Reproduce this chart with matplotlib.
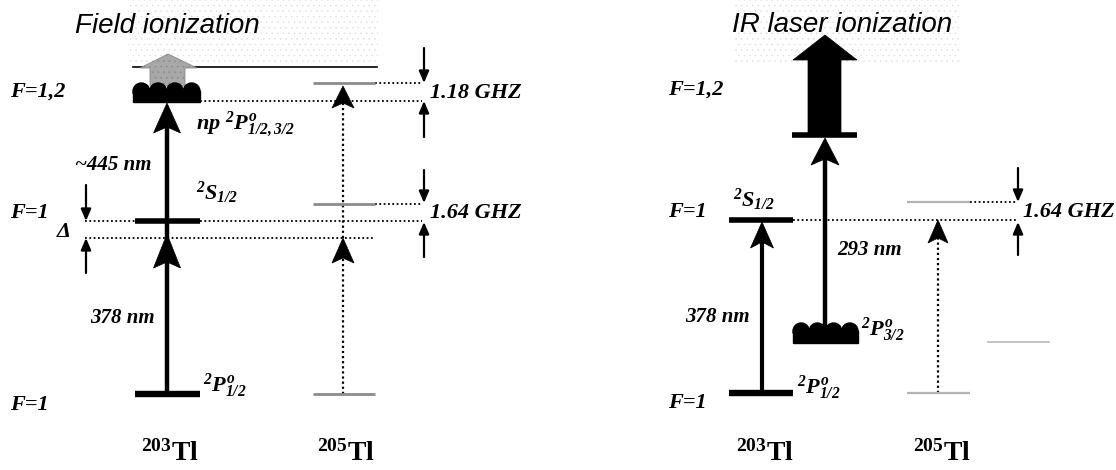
import matplotlib
matplotlib.use('Agg')
import matplotlib.pyplot as plt
from matplotlib.patches import Polygon, Rectangle, Circle

plt.rcParams['mathtext.fontset'] = 'custom'
plt.rcParams['mathtext.rm'] = 'Liberation Serif:bold:italic'
plt.rcParams['mathtext.it'] = 'Liberation Serif:bold:italic'
plt.rcParams['mathtext.bf'] = 'Liberation Serif:bold'
plt.rcParams['hatch.linewidth'] = 0.4

# ---------------- data (diagram coordinates in pixels, y downward) ----------
titles = ['Field ionization', 'IR laser ionization']
title_x = [75, 732]
title_y = [26, 25]

# Left panel: 203Tl levels
L_x203 = [135, 200]               # level bar extent
L_y_P12 = 394                      # 2P1/2 ground
L_y_S12 = 221                      # 2S1/2
L_y_virtual = 238                  # detuned (Delta) level
L_y_np = 101                       # np Rydberg level (bottom of blob)
L_y_limit = 67                     # ionization limit
# Left panel: 205Tl levels
L_x205 = [313, 375]
L_y205 = [394, 204, 83]
L_arrow205_x = 343

# Right panel: 203Tl levels
R_x203 = [729, 793]
R_y_P12 = 393
R_y_S12 = 220
R_y_P32 = 343
R_y_np = 135
R_x_P32 = [793, 858]
# Right panel: 205Tl levels
R_x205 = [907, 970]
R_y205 = [393, 202]
R_x205_P32 = [987, 1050]
R_y205_P32 = 342
R_arrow205_x = 938

wavelengths_left = ['~445 nm', '378 nm']
wavelengths_right = ['293 nm', '378 nm']
splittings = ['1.18 GHZ', '1.64 GHZ']
isotopes = [r'$\mathbf{^{203}Tl}$', r'$\mathbf{^{205}Tl}$']

# ---------------------------------------------------------------------------
fig = plt.figure(figsize=(11.16, 4.70), dpi=100)
ax = fig.add_axes([0, 0, 1, 1])
ax.set_xlim(0, 1116)
ax.set_ylim(470, 0)
ax.axis('off')

SERIF = dict(family='Liberation Serif', weight='bold', style='italic')


def head(x, tip, base, w, notch=6, color='k', z=5):
    pts = [(x, tip), (x - w / 2, base), (x, base - notch), (x + w / 2, base)]
    ax.add_patch(Polygon(pts, closed=True, fc=color, ec=color, lw=0.5, zorder=z))


def solid_arrow(x, y0, tip, hl, w, lw=3.2):
    ax.plot([x, x], [y0, tip + hl - 6], color='k', lw=lw, solid_capstyle='butt', zorder=4)
    head(x, tip, tip + hl, w)


def dotted_arrow(x, y0, tip, hl=24, w=21):
    ax.plot([x, x], [y0, tip + hl - 5], color='k', lw=1.6, ls=(0, (1, 1.3)), zorder=3)
    head(x, tip, tip + hl, w, notch=5)


def marker_arrow(x, y0, tip):
    ax.annotate('', xy=(x, tip), xytext=(x, y0),
                arrowprops=dict(arrowstyle='-|>,head_length=0.7,head_width=0.3',
                                color='k', lw=1.6, shrinkA=0, shrinkB=0))


def level(x0, x1, y, lw=4.0, color='k'):
    ax.plot([x0, x1], [y, y], color=color, lw=lw, solid_capstyle='butt', zorder=4)


def dotted(x0, x1, y):
    ax.plot([x0, x1], [y, y], color='k', lw=1.3, ls=(0, (1, 1.4)), zorder=2)


def blob(x0, x1, ytop, ybot, nb=4):
    r = (x1 - x0) / nb / 2
    ax.add_patch(Rectangle((x0, ytop + r), x1 - x0, ybot - ytop - r, fc='k', ec='k', zorder=4))
    for i in range(nb):
        ax.add_patch(Circle((x0 + r + 2 * r * i, ytop + r), r, fc='k', ec='k', zorder=4))


def stipple(x0, y0, w, h):
    ax.add_patch(Rectangle((x0, y0), w, h, fill=False, hatch='...', edgecolor='#e0e0e0', lw=0, zorder=0))


# ====================== LEFT PANEL ==========================================
stipple(128, 0, 250, 66)
ax.text(title_x[0], title_y[0], titles[0], family='Liberation Sans', style='italic',
        fontsize=20, va='center', ha='left')

# ionization limit
ax.plot([133, 377], [L_y_limit, L_y_limit], color='k', lw=1.2)
# grey ionization arrow
ax.add_patch(Polygon([(150, 86), (150, 68), (140, 68), (168, 54), (197, 68), (185, 68), (185, 86)],
                     closed=True, fc='#a8a8a8', ec='#8a8a8a', lw=0.6, hatch='...', zorder=3))

# np blob
blob(133, 200, 83, L_y_np + 1)
# levels 203
level(L_x203[0], L_x203[1], L_y_S12, lw=4)
level(L_x203[0], L_x203[1], L_y_P12, lw=4.6)
# dotted references
dotted(200, 422, L_y_np)
dotted(85, 135, L_y_S12)
dotted(200, 422, L_y_S12)
dotted(85, 373, L_y_virtual)
dotted(375, 422, L_y205[2])
dotted(375, 422, L_y205[1])
# 205 levels (grey)
for yy in L_y205:
    level(L_x205[0], L_x205[1], yy, lw=2.0, color='#8c8c8c')

# transitions 203
solid_arrow(167, L_y_P12, 234, 34, 27)
solid_arrow(167, L_y_virtual, 103, 30, 27)
# 205 dotted arrows
dotted_arrow(L_arrow205_x, L_y205[0], 238, 25, 22)
dotted_arrow(L_arrow205_x, L_y_virtual, 86, 22, 22)

# splitting markers
marker_arrow(424, 48, 83)
marker_arrow(424, 137, 101)
marker_arrow(424, 170, 203)
marker_arrow(424, 257, 222)
marker_arrow(86, 185, 221)
marker_arrow(86, 273, 238)

ax.text(430, 93, splittings[0], fontsize=16, va='center', ha='left', **SERIF)
ax.text(430, 213, splittings[1], fontsize=16, va='center', ha='left', **SERIF)

ax.text(10, 92, 'F=1,2', fontsize=16, va='center', ha='left', **SERIF)
ax.text(10, 213, 'F=1', fontsize=16, va='center', ha='left', **SERIF)
ax.text(10, 405, 'F=1', fontsize=16, va='center', ha='left', **SERIF)
ax.text(56, 231, r'$\Delta$', fontsize=16, va='center', ha='left')
ax.text(75, 165, wavelengths_left[0], fontsize=15, va='center', ha='left', **SERIF)
ax.text(90, 318, wavelengths_left[1], fontsize=15, va='center', ha='left', **SERIF)
ax.text(196, 124, r'$np\ ^{2}P_{1/2,3/2}^{o}$', fontsize=16, va='center', ha='left')
ax.text(196, 193, r'$^{2}S_{1/2}$', fontsize=16, va='center', ha='left')
ax.text(203, 386, r'$^{2}P_{1/2}^{o}$', fontsize=16, va='center', ha='left')
ax.text(170, 453, isotopes[0], fontsize=20, va='center', ha='center')
ax.text(346, 453, isotopes[1], fontsize=20, va='center', ha='center')

# ====================== RIGHT PANEL =========================================
stipple(735, 0, 225, 62)
ax.text(title_x[1], title_y[1], titles[1], family='Liberation Sans', style='italic',
        fontsize=20, va='center', ha='left')

# big IR arrow
ax.add_patch(Polygon([(808, 134), (808, 60), (793, 60), (825, 35), (857, 60), (841, 60), (841, 134)],
                     closed=True, fc='k', ec='k', lw=0.5, zorder=4))
level(792, 857, R_y_np, lw=4)

level(R_x203[0], R_x203[1], R_y_S12, lw=4)
level(R_x203[0], R_x203[1], R_y_P12, lw=4.6)
blob(R_x_P32[0], R_x_P32[1], 323, R_y_P32)

dotted(793, 1017, R_y_S12)
dotted(970, 1017, R_y205[1])
for yy in R_y205:
    level(R_x205[0], R_x205[1], yy, lw=1.6, color='#b4b4b4')
level(R_x205_P32[0], R_x205_P32[1], R_y205_P32, lw=1.4, color='#c4c4c4')

solid_arrow(762, R_y_P12, 222, 26, 23, lw=3.0)
solid_arrow(825, 330, 138, 27, 28, lw=3.2)
dotted_arrow(R_arrow205_x, R_y205[0], 220, 23, 20)

marker_arrow(1018, 168, 202)
marker_arrow(1018, 255, 222)

ax.text(1023, 212, splittings[1], fontsize=16, va='center', ha='left', **SERIF)
ax.text(668, 90, 'F=1,2', fontsize=16, va='center', ha='left', **SERIF)
ax.text(668, 212, 'F=1', fontsize=16, va='center', ha='left', **SERIF)
ax.text(668, 403, 'F=1', fontsize=16, va='center', ha='left', **SERIF)
ax.text(733, 200, r'$^{2}S_{1/2}$', fontsize=16, va='center', ha='left')
ax.text(837, 250, wavelengths_right[0], fontsize=15, va='center', ha='left', **SERIF)
ax.text(685, 317, wavelengths_right[1], fontsize=15, va='center', ha='left', **SERIF)
ax.text(861, 330, r'$^{2}P_{3/2}^{o}$', fontsize=16, va='center', ha='left')
ax.text(797, 388, r'$^{2}P_{1/2}^{o}$', fontsize=16, va='center', ha='left')
ax.text(765, 453, isotopes[0], fontsize=20, va='center', ha='center')
ax.text(942, 453, isotopes[1], fontsize=20, va='center', ha='center')

fig.savefig('out.png', dpi=100)
